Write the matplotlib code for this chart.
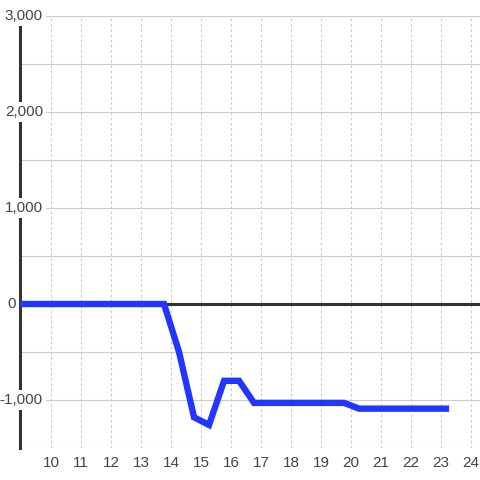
import matplotlib
matplotlib.use('Agg')
import matplotlib.pyplot as plt

# data
x_vals = [8.77, 9.27, 9.77, 10.27, 10.77, 11.27, 11.77, 12.27, 12.77, 13.27,
          13.77, 14.27, 14.77, 15.27, 15.77, 16.27, 16.77, 17.27, 17.77, 18.27,
          18.77, 19.27, 19.77, 20.27, 20.77, 21.27, 21.77, 22.27, 22.77, 23.27]
y_vals = [0, 0, 0, 0, 0, 0, 0, 0, 0, 0,
          0, -500, -1180, -1260, -800, -800, -1030, -1030, -1030, -1030,
          -1030, -1030, -1030, -1090, -1090, -1090, -1090, -1090, -1090, -1090]
x_ticks = list(range(10, 25))
y_ticks = [-1000, 0, 1000, 2000, 3000]
y_grid = [-1500, -1000, -500, 0, 500, 1000, 1500, 2000, 2500, 3000]

plt.rcParams['font.family'] = ['Liberation Sans', 'DejaVu Sans']

fig = plt.figure(figsize=(4.8, 4.8), dpi=100)
ax = fig.add_axes([20 / 480, 32 / 480, 460 / 480, 432 / 480])
ax.set_xlim(8.97, 24.3)
ax.set_ylim(-1500, 3000)

for s in ['top', 'right', 'bottom']:
    ax.spines[s].set_visible(False)
ax.spines['left'].set_color('#333333')
ax.spines['left'].set_linewidth(2.2)
ax.spines['left'].set_zorder(2)

# grid
for g in y_grid:
    ax.axhline(g, color='#cccccc', lw=0.8, zorder=1)
for t in x_ticks:
    ax.axvline(t, color='#c8c8c8', lw=0.75, ls=(0, (2.5, 2.5)), zorder=1)
ax.axhline(0, color='#333333', lw=2.2, zorder=3)

ax.plot(x_vals, y_vals, color='#2236ff', lw=4.6, solid_capstyle='butt',
        solid_joinstyle='miter', zorder=4)

ax.set_xticks(x_ticks)
ax.set_xticklabels([str(t) for t in x_ticks])
ax.tick_params(axis='x', length=0, pad=6, labelsize=11, labelcolor='#444444')
ax.set_yticks([])

# y labels sit on top of the axis with a white box
ytr = ax.get_yaxis_transform()
for v in y_ticks:
    lab = f'{v:,}'
    xpos = -0.009 if v == 0 else 0.05
    ax.text(xpos, v, lab, transform=ytr, ha='right', va='center',
            fontsize=11, color='#444444', zorder=5, clip_on=False,
            bbox=dict(boxstyle='square,pad=0.2', fc='white', ec='none'))

fig.savefig('out.png', dpi=100)
